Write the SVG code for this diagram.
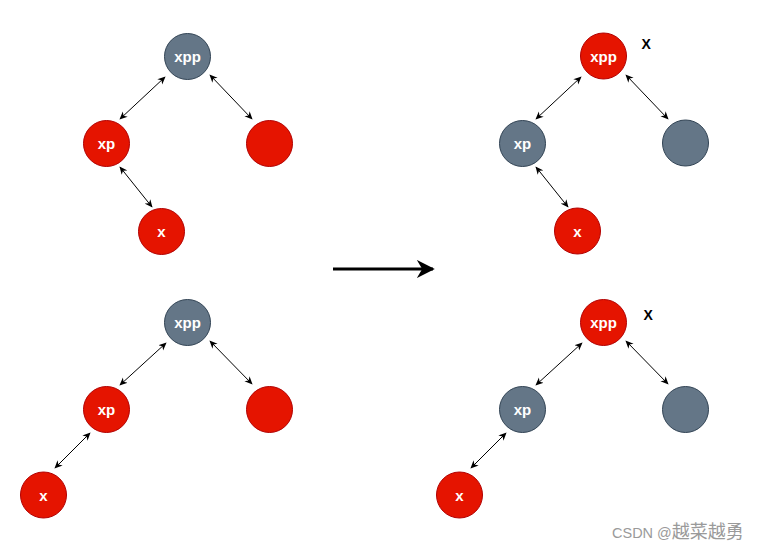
<svg xmlns="http://www.w3.org/2000/svg" width="761" height="549" viewBox="0 0 761 549">
<style>
.red{fill:#e51400;stroke:#b20000;stroke-width:1}
.gray{fill:#647687;stroke:#314354;stroke-width:1}
.lbl{font-family:"Liberation Sans",Arial,sans-serif;font-size:15px;font-weight:bold;fill:#ffffff;text-anchor:middle}
.edge{stroke:#000;stroke-width:1;fill:none;marker-start:url(#ah);marker-end:url(#ah)}
.mark{font-family:"Liberation Sans",Arial,sans-serif;font-size:14px;font-weight:bold;fill:#000}
</style>
<defs>
<marker id="ah" viewBox="0 0 10 10" refX="9" refY="5" markerWidth="8" markerHeight="8" markerUnits="userSpaceOnUse" orient="auto-start-reverse">
<path d="M0,0.5 L10,5 L0,9.5 L3,5 Z" fill="#000"/>
</marker>
<marker id="big" viewBox="0 0 10 10" refX="9" refY="5" markerWidth="18" markerHeight="18" markerUnits="userSpaceOnUse" orient="auto">
<path d="M0,0 L10,5 L0,10 L3,5 Z" fill="#000"/>
</marker>
</defs>
<rect width="761" height="549" fill="#ffffff"/>
<g id="connectors">
<line class="edge" x1="165" y1="77" x2="120" y2="119"/>
<line class="edge" x1="210" y1="75" x2="252" y2="119"/>
<line class="edge" x1="120" y1="167" x2="152" y2="207"/>
<line class="edge" x1="581" y1="77" x2="536" y2="119"/>
<line class="edge" x1="626" y1="75" x2="668" y2="119"/>
<line class="edge" x1="536" y1="167" x2="568" y2="207"/>
<line class="edge" x1="166" y1="343" x2="120" y2="385"/>
<line class="edge" x1="210" y1="341" x2="252" y2="384"/>
<line class="edge" x1="90" y1="433" x2="55" y2="468"/>
<line class="edge" x1="582" y1="343" x2="536" y2="385"/>
<line class="edge" x1="626" y1="341" x2="668" y2="384"/>
<line class="edge" x1="506" y1="433" x2="471" y2="468"/>
<line x1="333" y1="269" x2="433" y2="269" stroke="#000" stroke-width="3" marker-end="url(#big)"/>
</g>
<g id="tl-xpp"><circle class="gray" cx="187.5" cy="56.5" r="23"/><text class="lbl" x="187.5" y="62">xpp</text></g>
<g id="tl-xp"><circle class="red" cx="106.5" cy="143.5" r="23"/><text class="lbl" x="106.5" y="149">xp</text></g>
<g id="tl-u"><circle class="red" cx="269.5" cy="143.5" r="23"/></g>
<g id="tl-x"><circle class="red" cx="161.5" cy="231.5" r="23"/><text class="lbl" x="161.5" y="237">x</text></g>
<g id="tr-xpp"><circle class="red" cx="603.5" cy="56" r="23"/><text class="lbl" x="603.5" y="61.5">xpp</text></g>
<g id="tr-xp"><circle class="gray" cx="522.5" cy="143.5" r="23"/><text class="lbl" x="522.5" y="149">xp</text></g>
<g id="tr-u"><circle class="gray" cx="685.5" cy="143" r="23"/></g>
<g id="tr-x"><circle class="red" cx="577.5" cy="231" r="23"/><text class="lbl" x="577.5" y="236.5">x</text></g>
<g id="tr-mark"><text class="mark" x="641.5" y="49">X</text></g>
<g id="bl-xpp"><circle class="gray" cx="187.5" cy="322.5" r="23"/><text class="lbl" x="187.5" y="328">xpp</text></g>
<g id="bl-xp"><circle class="red" cx="106.5" cy="409.5" r="23"/><text class="lbl" x="106.5" y="415">xp</text></g>
<g id="bl-u"><circle class="red" cx="269.5" cy="409.5" r="23"/></g>
<g id="bl-x"><circle class="red" cx="43.5" cy="495" r="23"/><text class="lbl" x="43.5" y="500.5">x</text></g>
<g id="br-xpp"><circle class="red" cx="603.5" cy="322.5" r="23"/><text class="lbl" x="603.5" y="328">xpp</text></g>
<g id="br-xp"><circle class="gray" cx="522.5" cy="409.5" r="23"/><text class="lbl" x="522.5" y="415">xp</text></g>
<g id="br-u"><circle class="gray" cx="685.5" cy="409.5" r="23"/></g>
<g id="br-x"><circle class="red" cx="459.5" cy="495" r="23"/><text class="lbl" x="459.5" y="500.5">x</text></g>
<g id="br-mark"><text class="mark" x="643.5" y="320">X</text></g>
<text x="612" y="538" font-family="'Liberation Sans','Noto Sans CJK SC',sans-serif" font-size="14.5" fill="#9a9a9a">CSDN @<tspan font-size="18">越菜越勇</tspan></text>
</svg>
